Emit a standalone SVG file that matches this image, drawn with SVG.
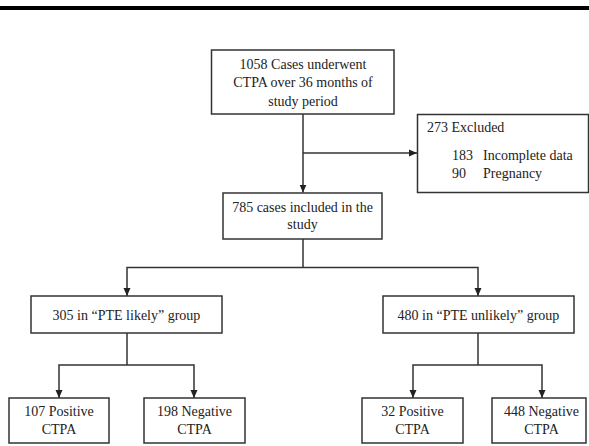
<svg xmlns="http://www.w3.org/2000/svg" width="589" height="446" viewBox="0 0 589 446">
<style>
.box{fill:#fff;stroke:#333;stroke-width:1.5}
.t{font-family:"Liberation Serif","Times New Roman",serif;font-size:14px;fill:#222}
.c{text-anchor:middle}
.ln{fill:none;stroke:#333;stroke-width:1.5}
</style>
<defs>
<marker id="ah" viewBox="0 0 8 8" refX="8" refY="4" markerWidth="8" markerHeight="8" markerUnits="userSpaceOnUse" orient="auto">
<path d="M0,0.5 L8,4 L0,7.5 Z" fill="#222"/>
</marker>
</defs>
<rect x="0" y="6" width="589" height="4" fill="#000"/>
<g id="connectors">
<line class="ln" x1="303" y1="114" x2="303" y2="192.5" marker-end="url(#ah)"/>
<line class="ln" x1="303" y1="153" x2="417" y2="153" marker-end="url(#ah)"/>
<polyline class="ln" points="303,239 303,267.5"/>
<polyline class="ln" points="303,267.5 127,267.5 127,296" marker-end="url(#ah)"/>
<polyline class="ln" points="303,267.5 478,267.5 478,296" marker-end="url(#ah)"/>
<polyline class="ln" points="127,333 127,365"/>
<polyline class="ln" points="127,365 59,365 59,398" marker-end="url(#ah)"/>
<polyline class="ln" points="127,365 194,365 194,398" marker-end="url(#ah)"/>
<polyline class="ln" points="478,333 478,365"/>
<polyline class="ln" points="478,365 413,365 413,398" marker-end="url(#ah)"/>
<polyline class="ln" points="478,365 542,365 542,398" marker-end="url(#ah)"/>
</g>
<g id="n-start">
<rect class="box" x="211.5" y="50" width="182.5" height="64"/>
<text class="t c" x="303" y="68.5">1058 Cases underwent</text>
<text class="t c" x="303" y="87">CTPA over 36 months of</text>
<text class="t c" x="303" y="105.5">study period</text>
</g>
<g id="n-excluded">
<rect class="box" x="417.5" y="114.5" width="171" height="78"/>
<text class="t" x="427" y="132">273 Excluded</text>
<text class="t" x="452" y="160">183</text>
<text class="t" x="483" y="160">Incomplete data</text>
<text class="t" x="452" y="178">90</text>
<text class="t" x="483" y="178">Pregnancy</text>
</g>
<g id="n-included">
<rect class="box" x="223" y="193" width="159" height="46"/>
<text class="t c" x="302.5" y="212">785 cases included in the</text>
<text class="t c" x="302.5" y="229">study</text>
</g>
<g id="n-likely">
<rect class="box" x="31" y="296" width="191" height="37"/>
<text class="t c" x="126.5" y="320">305 in “PTE likely” group</text>
</g>
<g id="n-unlikely">
<rect class="box" x="383" y="296" width="191" height="37"/>
<text class="t c" x="478.5" y="320">480 in “PTE unlikely” group</text>
</g>
<g id="n-lp">
<rect class="box" x="9" y="398" width="100" height="45"/>
<text class="t c" x="59" y="416">107 Positive</text>
<text class="t c" x="59" y="434">CTPA</text>
</g>
<g id="n-ln">
<rect class="box" x="144" y="398" width="101" height="45"/>
<text class="t c" x="194.5" y="416">198 Negative</text>
<text class="t c" x="194.5" y="434">CTPA</text>
</g>
<g id="n-up">
<rect class="box" x="362" y="398" width="101" height="45"/>
<text class="t c" x="412.5" y="416">32 Positive</text>
<text class="t c" x="412.5" y="434">CTPA</text>
</g>
<g id="n-un">
<rect class="box" x="492" y="398" width="94" height="45"/>
<text class="t c" x="541.5" y="416">448 Negative</text>
<text class="t c" x="541.5" y="434">CTPA</text>
</g>
</svg>
